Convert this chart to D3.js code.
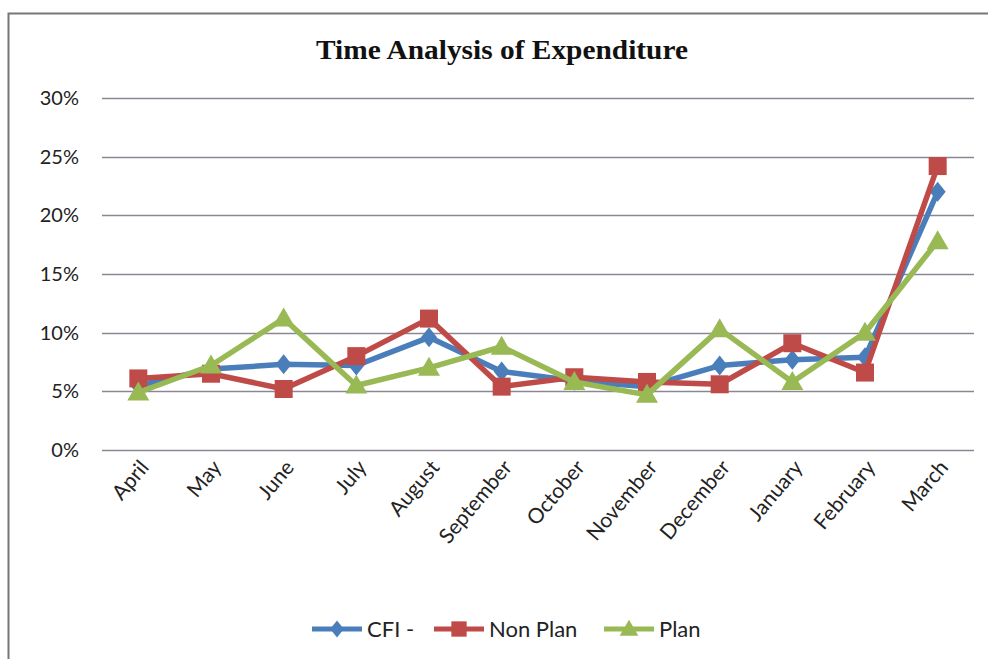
<!DOCTYPE html>
<html>
<head>
<meta charset="utf-8">
<script src="https://cdn.jsdelivr.net/npm/d3@7"></script>
<style>
  body { margin: 0; background: #fff; }
  text { font-family: Lato, "Open Sans", sans-serif; fill: #222; }
</style>
</head>
<body>
<svg id="chart-svg"></svg>
<script>
// Chart data
var months = ['April', 'May', 'June', 'July', 'August', 'September', 'October',
              'November', 'December', 'January', 'February', 'March'];
var cfiValues     = [5.5, 6.9, 7.3, 7.2, 9.6, 6.7, 5.9, 5.4, 7.2, 7.7, 7.9, 22.0];
var nonPlanValues = [6.1, 6.5, 5.2, 8.0, 11.2, 5.4, 6.2, 5.8, 5.6, 9.1, 6.6, 24.2];
var planValues    = [4.9, 7.2, 11.2, 5.5, 7.0, 8.8, 5.8, 4.7, 10.3, 5.8, 10.0, 17.8];
var yTicks = [0, 5, 10, 15, 20, 25, 30];

var seriesNames = ['CFI -', 'Non Plan', 'Plan'];
var seriesColors = ['#4a7ebb', '#be4b48', '#98b954'];
var seriesData = [cfiValues, nonPlanValues, planValues];

// Marker shapes (Excel style: wide diamond, square, triangle)
var markerPaths = [
    'M0,-10L8,0L0,10L-8,0Z',
    'M-9,-9H9V9H-9Z',
    'M0,-11L11,8H-11Z'
];

var W = 988, H = 659;
var svg = d3.select('#chart-svg').attr('width', W).attr('height', H);

// Outer chart frame (top and left edges visible)
svg.append('path')
    .attr('d', 'M8.5,' + H + ' L8.5,13.5 L' + W + ',13.5')
    .attr('fill', 'none')
    .attr('stroke', '#777')
    .attr('stroke-width', 2);

// Title
svg.append('text')
    .attr('x', 502)
    .attr('y', 59)
    .attr('text-anchor', 'middle')
    .attr('textLength', 372)
    .attr('lengthAdjust', 'spacingAndGlyphs')
    .style('font-family', '"Liberation Serif", "Times New Roman", serif')
    .style('font-weight', 'bold')
    .style('font-size', '27px')
    .style('fill', '#111')
    .text('Time Analysis of Expenditure');

// Scales
var xScale = d3.scalePoint().domain(months).range([102, 974]).padding(0.5);
var yScale = d3.scaleLinear().domain([0, 30]).range([450, 98]);

// Gridlines
svg.append('g')
    .selectAll('line')
    .data(yTicks)
    .enter()
    .append('line')
    .attr('x1', 102)
    .attr('x2', 974)
    .attr('y1', function(d) { return Math.round(yScale(d)) + 0.5; })
    .attr('y2', function(d) { return Math.round(yScale(d)) + 0.5; })
    .attr('stroke', '#8a8793')
    .attr('stroke-width', 1.5);

// Y axis labels
var yAxis = d3.axisLeft(yScale)
    .tickValues(yTicks)
    .tickSize(0)
    .tickPadding(0)
    .tickFormat(function(d) { return d + '%'; });

var yAxisG = svg.append('g')
    .attr('transform', 'translate(79,0)')
    .call(yAxis);
yAxisG.select('.domain').remove();
yAxisG.selectAll('text')
    .style('font-size', '20px')
    .style('font-family', 'Lato, sans-serif')
    .attr('fill', '#222');

// X axis labels (rotated)
var xAxis = d3.axisBottom(xScale).tickSize(0).tickPadding(0);
var xAxisG = svg.append('g')
    .attr('transform', 'translate(0,450)')
    .call(xAxis);
xAxisG.select('.domain').remove();
xAxisG.selectAll('text')
    .attr('text-anchor', 'end')
    .attr('dy', null)
    .attr('y', 0)
    .attr('transform', 'translate(11,18) rotate(-50)')
    .style('font-size', '21px')
    .style('font-family', 'Lato, sans-serif')
    .attr('fill', '#222');

// Lines and markers
var line = d3.line()
    .x(function(d, i) { return xScale(months[i]); })
    .y(function(d) { return yScale(d); });

seriesData.forEach(function(values, s) {
    svg.append('path')
        .datum(values)
        .attr('d', line)
        .attr('fill', 'none')
        .attr('stroke', seriesColors[s])
        .attr('stroke-width', 5.5)
        .attr('stroke-linejoin', 'round');

    svg.append('g')
        .selectAll('path')
        .data(values)
        .enter()
        .append('path')
        .attr('d', markerPaths[s])
        .attr('transform', function(d, i) {
            return 'translate(' + xScale(months[i]) + ',' + yScale(d) + ')';
        })
        .attr('fill', seriesColors[s]);
});

// Legend
var legendX = [312, 434, 604];
var legendY = 629;
var legend = svg.append('g');
seriesNames.forEach(function(name, s) {
    var g = legend.append('g').attr('transform', 'translate(' + legendX[s] + ',' + legendY + ')');
    g.append('line')
        .attr('x1', 0).attr('x2', 50)
        .attr('y1', 0).attr('y2', 0)
        .attr('stroke', seriesColors[s])
        .attr('stroke-width', 5);
    g.append('path')
        .attr('d', markerPaths[s])
        .attr('transform', 'translate(25,0) scale(0.85)')
        .attr('fill', seriesColors[s]);
    g.append('text')
        .attr('x', 55)
        .attr('y', 8)
        .style('font-size', '22px')
        .text(name);
});
</script>
</body>
</html>
